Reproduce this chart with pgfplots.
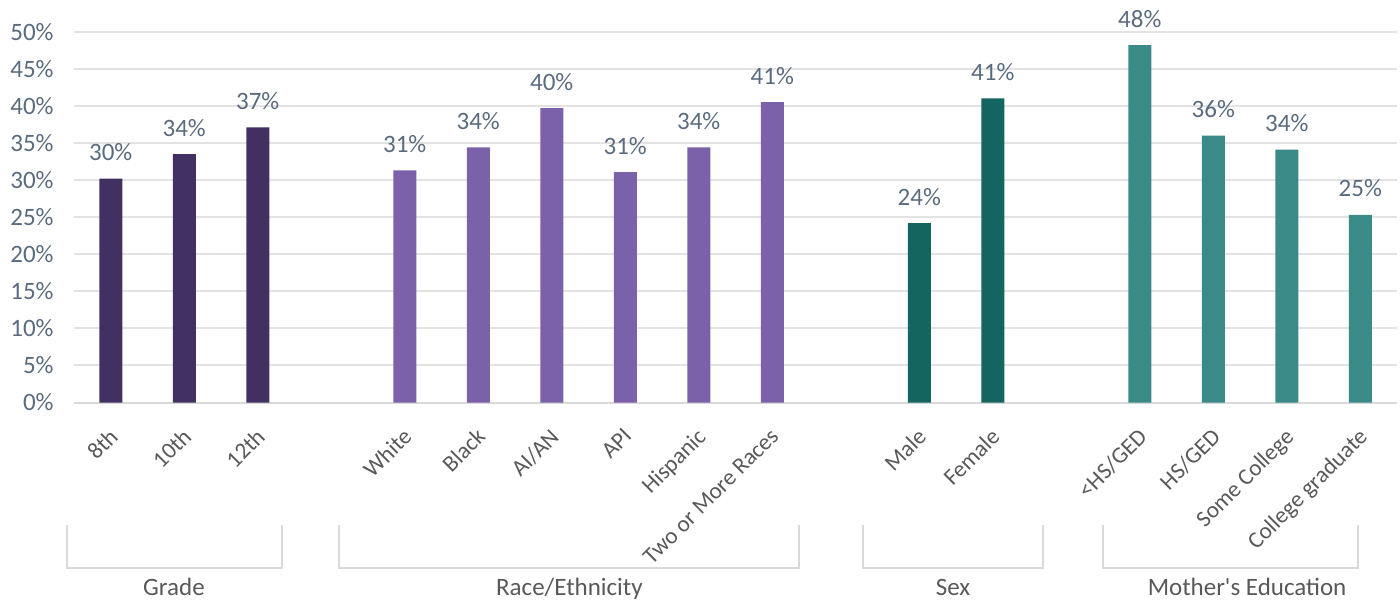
\documentclass[border=0pt]{standalone}
\usepackage{fontspec}
\setmainfont{Carlito}
\usepackage{pgfplots}
\pgfplotsset{compat=1.18}
\usepackage{textcomp}

\definecolor{grade}{HTML}{433063}
\definecolor{race}{HTML}{7B61A9}
\definecolor{sex}{HTML}{146460}
\definecolor{moth}{HTML}{3A8A88}
\definecolor{slate}{HTML}{5A6B80}
\definecolor{lab}{HTML}{595959}
\definecolor{gridc}{HTML}{E3E3E3}
\definecolor{brk}{HTML}{D9D9D9}

\begin{document}
\begin{tikzpicture}
  \path[use as bounding box] (0,0) rectangle (700bp,301.5bp);
  \begin{axis}[
    at={(37bp,100.25bp)}, anchor=south west,
    scale only axis, width=661.5bp, height=185.4bp,
    ybar, bar width=11.5bp,
    xmin=-0.5, xmax=17.5, ymin=0, ymax=50,
    ytick={0,5,...,50},
    yticklabel={\pgfmathprintnumber{\tick}\%},
    /pgf/number format/assume math mode=true,
    xtick={0,1,2,4,5,6,7,8,9,11,12,14,15,16,17},
    xticklabels={8th,10th,12th,White,Black,AI/AN,API,Hispanic,Two or More Races,Male,Female,<HS/GED,HS/GED,Some College,College graduate},
    major tick length=0pt,
    axis x line*=bottom, axis y line*=left,
    y axis line style={draw=none},
    x axis line style={draw=brk, line width=1bp},
    ymajorgrids, grid style={draw=gridc, line width=1bp},
    yticklabel style={font=\fontsize{12.5bp}{14bp}\selectfont, text=slate, anchor=east, inner sep=0pt, xshift=-10bp},
    xticklabel style={font=\fontsize{11.6bp}{13bp}\selectfont, text=lab, xshift=-1.5bp, yshift=-12bp, rotate=45, anchor=north east, inner sep=0pt},
    nodes near coords={\pgfmathprintnumber[fixed,precision=0]{\pgfplotspointmeta}\%},
    every node near coord/.append style={font=\fontsize{12.5bp}{14bp}\selectfont, text=slate, anchor=base, inner sep=0pt, yshift=9bp},
    clip=false,
  ]
    \addplot[fill=grade, draw=none, bar shift=0pt] coordinates {(0,30.2)(1,33.5)(2,37.1)};
    \addplot[fill=race, draw=none, bar shift=0pt] coordinates {(4,31.3)(5,34.4)(6,39.7)(7,31.05)(8,34.4)(9,40.5)};
    \addplot[fill=sex, draw=none, bar shift=0pt] coordinates {(11,24.2)(12,41.0)};
    \addplot[fill=moth, draw=none, bar shift=0pt] coordinates {(14,48.2)(15,36.0)(16,34.1)(17,25.3)};

    % category brackets
    \draw[brk, line width=1bp] ([yshift=-61.25bp]axis cs:-0.6,0) |- ([yshift=-82.75bp]axis cs:2.33,0) -- ([yshift=-61.25bp]axis cs:2.33,0);
    \draw[brk, line width=1bp] ([yshift=-61.25bp]axis cs:3.1,0) |- ([yshift=-82.75bp]axis cs:9.37,0) -- ([yshift=-61.25bp]axis cs:9.37,0);
    \draw[brk, line width=1bp] ([yshift=-61.25bp]axis cs:10.24,0) |- ([yshift=-82.75bp]axis cs:12.68,0) -- ([yshift=-61.25bp]axis cs:12.68,0);
    \draw[brk, line width=1bp] ([yshift=-61.25bp]axis cs:13.5,0) |- ([yshift=-82.75bp]axis cs:16.97,0) -- ([yshift=-61.25bp]axis cs:16.97,0);
    \begin{scope}[every node/.style={font=\fontsize{12.5bp}{14bp}\selectfont, text=lab, anchor=base, inner sep=0pt}]
      \node at ([yshift=-96.25bp]axis cs:0.86,0) {Grade};
      \node at ([yshift=-96.25bp]axis cs:6.24,0) {Race/Ethnicity};
      \node at ([yshift=-96.25bp]axis cs:11.46,0) {Sex};
      \node at ([yshift=-96.25bp]axis cs:15.46,0) {Mother\textquotesingle s Education};
    \end{scope}
  \end{axis}
\end{tikzpicture}
\end{document}
